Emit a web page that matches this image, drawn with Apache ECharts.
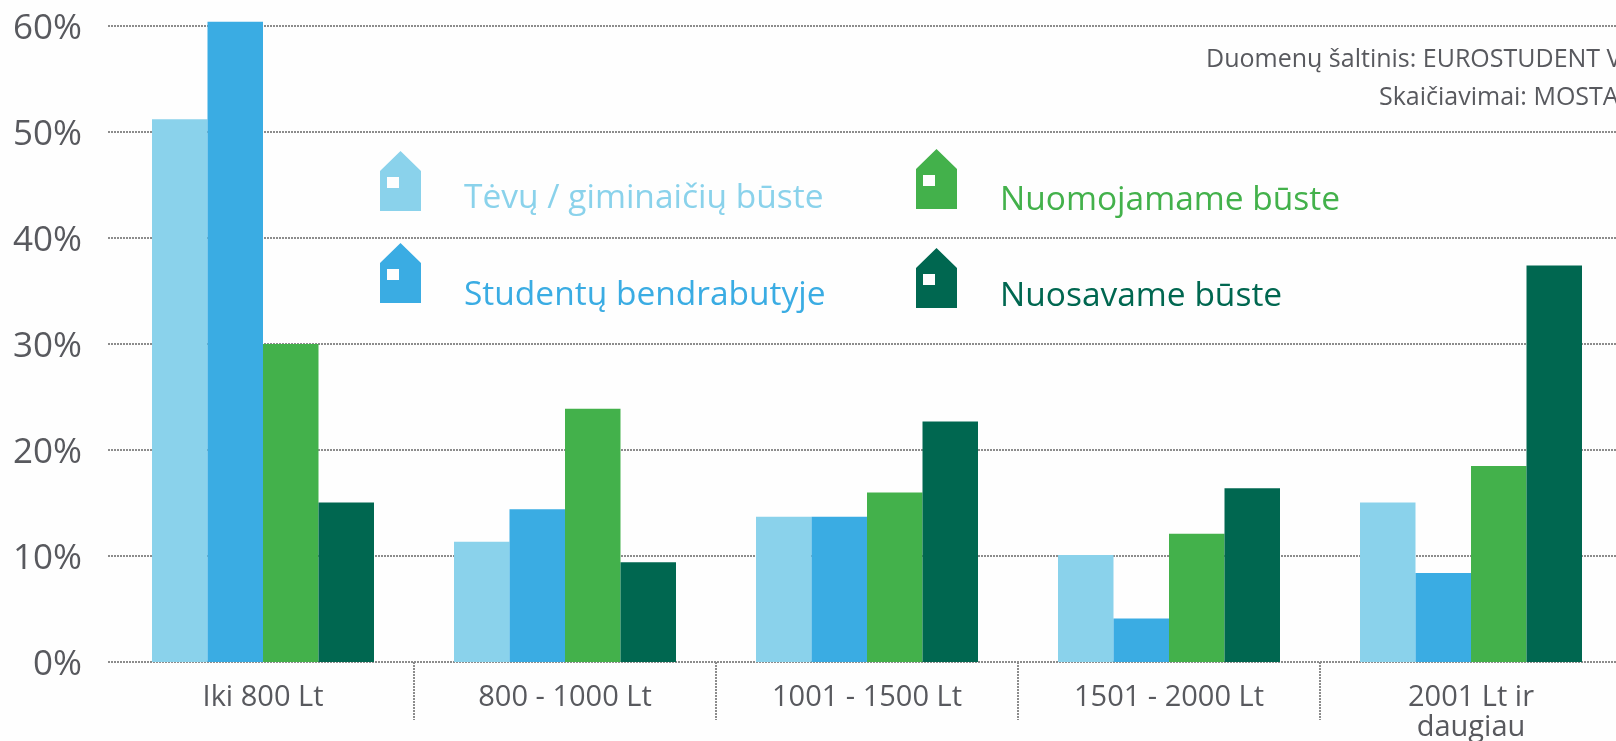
<!DOCTYPE html>
<html><head><meta charset="utf-8">
<style>html,body{margin:0;padding:0;background:#fefefe}#c{width:1616px;height:741px}</style>
<script src="https://cdn.jsdelivr.net/npm/echarts@6/dist/echarts.min.js"></script>
</head><body><div id="c"></div>
<script>
const categories = ['Iki 800 Lt', '800 - 1000 Lt', '1001 - 1500 Lt', '1501 - 2000 Lt', '2001 Lt ir\ndaugiau'];
const parents = [51.2, 11.35, 13.7, 10.1, 15.05];
const dormitory = [60.4, 14.4, 13.7, 4.1, 8.4];
const rented = [30.0, 23.9, 16.0, 12.1, 18.5];
const owned = [15.05, 9.4, 22.7, 16.4, 37.4];
const names = ['Tėvų / giminaičių būste', 'Studentų bendrabutyje', 'Nuomojamame būste', 'Nuosavame būste'];
const colors = ['#8ad2eb', '#3aace3', '#43b14b', '#006750'];
const sourceLines = ['Duomenų šaltinis: EUROSTUDENT V', 'Skaičiavimai: MOSTA'];
const house = 'path://M20.5 0L41 20L41 60L0 60L0 20ZM7 26L7 37L19 37L19 26Z';
const font = '"Open Sans", sans-serif';
const labelColor = '#58595e';
const dots = {color: '#8c8c8c', width: 2, type: [2, 1]};

const legendAt = [[380, 147, 38, 34], [380, 229, 38, 44], [916, 137, 38, 42], [916, 241, 38, 37]];
const chart = echarts.init(document.getElementById('c'));
chart.setOption({
  animation: false,
  backgroundColor: '#fefefe',
  title: [
    {text: sourceLines[0], left: 1206, top: 47, padding: 0, textStyle: {fontFamily: font, fontSize: 25, fontWeight: 'normal', color: labelColor}},
    {text: sourceLines[1], left: 1379, top: 85, padding: 0, textStyle: {fontFamily: font, fontSize: 25, fontWeight: 'normal', color: labelColor}}
  ],
  legend: names.map((n, i) => ({
    data: [n], left: legendAt[i][0], top: legendAt[i][1], padding: 0,
    icon: house, itemWidth: 41, itemHeight: 60, selectedMode: false,
    formatter: (s) => ' \n' + s,
    textStyle: {fontFamily: font, fontSize: 33.5, lineHeight: legendAt[i][3], color: colors[i], padding: [0, 0, 0, legendAt[i][2]]}
  })),
  grid: [
    {left: 112, width: 1510, top: 26, height: 636, outerBoundsMode: 'none'},
    {left: 108, right: 0, top: 26, height: 636, outerBoundsMode: 'none'}
  ],
  xAxis: [
    {type: 'category', gridIndex: 0, data: categories, offset: 3,
     axisLine: {show: false},
     axisTick: {show: true, length: 58, interval: (i) => i > 0, lineStyle: dots},
     axisLabel: {interval: 0, margin: 18, fontFamily: font, fontSize: 29, lineHeight: 30, color: labelColor}},
    {type: 'category', gridIndex: 1, data: categories, show: false}
  ],
  yAxis: [
    {type: 'value', gridIndex: 0, min: 0, max: 60, interval: 10, show: false, splitLine: {show: false}},
    {type: 'value', gridIndex: 1, min: 0, max: 60, interval: 10,
     axisLine: {show: false}, axisTick: {show: false},
     splitLine: {show: true, lineStyle: dots},
     axisLabel: {margin: 26, fontFamily: font, fontSize: 35, color: labelColor, verticalAlign: 'top', lineHeight: 6, formatter: '{value}%'}}
  ],
  series: [parents, dormitory, rented, owned].map((d, i) => ({
    type: 'bar', name: names[i], data: d, xAxisIndex: 0, yAxisIndex: 0,
    barWidth: 55.5, barGap: 0, clip: false, itemStyle: {color: colors[i]}
  }))
});
</script></body></html>
